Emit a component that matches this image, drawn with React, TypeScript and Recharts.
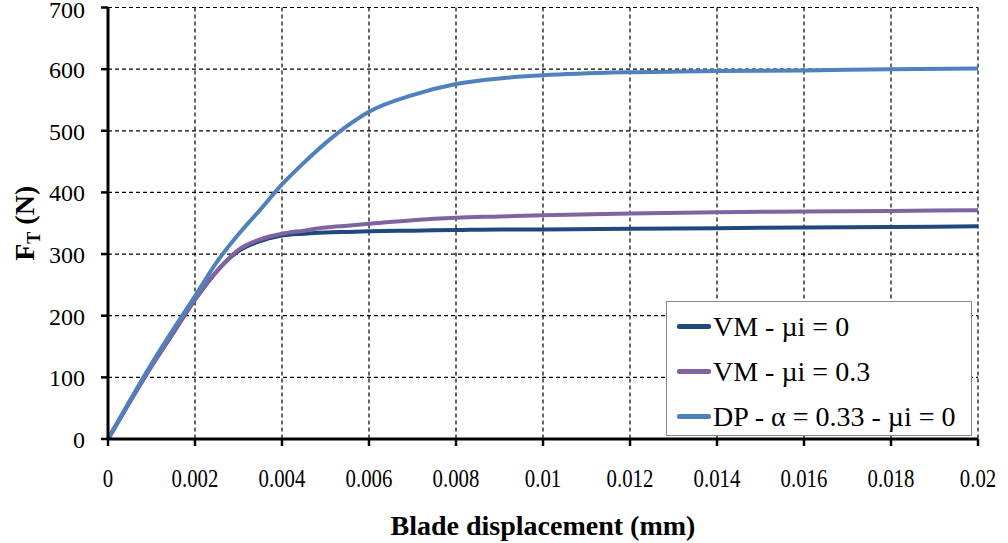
import { LineChart, Line, XAxis, YAxis, CartesianGrid } from 'recharts';

const displacement = [0, 0.0005, 0.001, 0.0015, 0.002, 0.0025, 0.003, 0.0035, 0.004, 0.0045, 0.005, 0.0055, 0.006, 0.007, 0.008, 0.009, 0.01, 0.012, 0.014, 0.016, 0.018, 0.02];
const vmMu0 = [0, 60, 118, 172, 226, 272, 305, 321, 330, 333, 335, 336, 337, 338, 339, 340, 340, 341, 342, 343, 344, 345];
const vmMu03 = [0, 60, 118, 172, 227, 272, 307, 324, 333, 338, 343, 346, 349, 355, 359, 361, 363, 366, 368, 369, 370, 371];
const dpMu0 = [0, 62, 122, 178, 232, 287, 332, 372, 413, 448, 480, 508, 531, 558, 576, 585, 590, 595, 597, 598, 600, 601];

const xTicks = [0, 0.002, 0.004, 0.006, 0.008, 0.01, 0.012, 0.014, 0.016, 0.018, 0.02];
const yTicks = [0, 100, 200, 300, 400, 500, 600, 700];

const seriesNames = ['VM - µi = 0', 'VM - µi = 0.3', 'DP - α = 0.33 - µi = 0'];
const COLORS = ['#1F497D', '#8064A2', '#4F81BD'];

const data = displacement.map((x, i) => ({ x, vm0: vmMu0[i], vm03: vmMu03[i], dp: dpMu0[i] }));

const FONT = '"Liberation Serif", "Times New Roman", serif';

const XTick = ({ x, y, payload }: any) => (
  <text transform={`translate(${x},${y + 39}) scale(0.8,1)`} textAnchor="middle" fontFamily={FONT} fontSize={26} fill="#000">
    {String(payload.value)}
  </text>
);

const YTick = ({ x, y, payload }: any) => (
  <text x={x - 14} y={y + 9} textAnchor="end" fontFamily={FONT} fontSize={24} fill="#000">
    {payload.value}
  </text>
);

// legend is drawn as a plain overlay so it doesn't steal plot height
const LegendBox = () => (
  <div style={{ position: 'absolute', left: 666, top: 301, width: 304, height: 133, background: '#fff', border: '1px solid #888', fontFamily: FONT, fontSize: 28, color: '#000' }}>
    {seriesNames.map((name, i) => (
      <div key={name} style={{ display: 'flex', alignItems: 'center', height: 45, paddingLeft: 10, marginTop: i === 0 ? 2 : 0 }}>
        <span style={{ display: 'inline-block', width: 34, height: 5, background: COLORS[i], borderRadius: 2, marginRight: 2 }} />
        <span style={{ whiteSpace: 'nowrap' }}>{name}</span>
      </div>
    ))}
  </div>
);

export default function App() {
  return (
    <div style={{ position: 'absolute', left: 0, top: 0, width: 1008, height: 543, background: '#fff' }}>
      <LineChart width={1008} height={543} data={data} margin={{ top: 7.5, right: 30, bottom: 0, left: 0 }}>
        <CartesianGrid stroke="#000" strokeDasharray="4 3" strokeWidth={1.2} />
        <XAxis
          dataKey="x"
          type="number"
          domain={[0, 0.02]}
          ticks={xTicks}
          tick={<XTick />}
          height={104}
          axisLine={{ stroke: '#000', strokeWidth: 3 }}
          tickLine={{ stroke: '#000', strokeWidth: 2.5 }}
          tickSize={7}
          label={{ value: 'Blade displacement (mm)', position: 'insideBottom', offset: 8, fontFamily: FONT, fontSize: 28, fontWeight: 'bold', fill: '#000' }}
        />
        <YAxis
          type="number"
          domain={[0, 700]}
          ticks={yTicks}
          tick={<YTick />}
          width={108}
          axisLine={{ stroke: '#000', strokeWidth: 3 }}
          tickLine={{ stroke: '#000', strokeWidth: 2.5 }}
          tickSize={7}
          label={({ viewBox }: any) => {
            const cy = viewBox.y + viewBox.height / 2;
            return (
              <text transform={`translate(34,${cy}) rotate(-90)`} textAnchor="middle" fontFamily={FONT} fontSize={28} fontWeight="bold" fill="#000">
                F<tspan fontSize={18} dy={6}>T</tspan><tspan dy={-6}> (N)</tspan>
              </text>
            );
          }}
        />
        <Line type="monotone" dataKey="vm0" name={seriesNames[0]} stroke={COLORS[0]} strokeWidth={4} dot={false} isAnimationActive={false} />
        <Line type="monotone" dataKey="vm03" name={seriesNames[1]} stroke={COLORS[1]} strokeWidth={4} dot={false} isAnimationActive={false} />
        <Line type="monotone" dataKey="dp" name={seriesNames[2]} stroke={COLORS[2]} strokeWidth={4} dot={false} isAnimationActive={false} />
      </LineChart>
      <LegendBox />
    </div>
  );
}
